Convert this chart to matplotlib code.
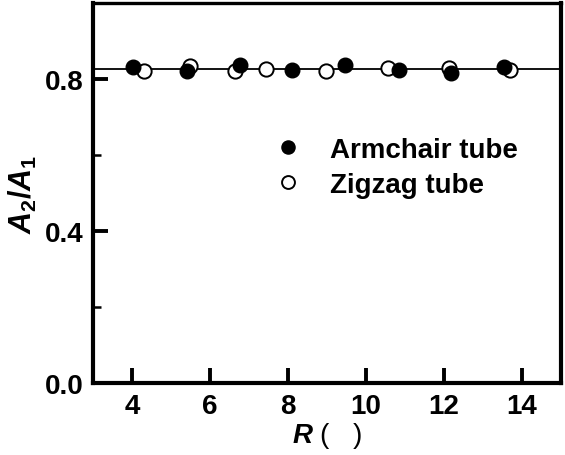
import numpy as np
import matplotlib.pyplot as plt
from matplotlib.ticker import MultipleLocator

plt.rcParams['font.family'] = 'Liberation Sans'
plt.rcParams['font.weight'] = 'bold'
plt.rcParams['mathtext.fontset'] = 'custom'
plt.rcParams['mathtext.rm'] = 'Liberation Sans:bold'
plt.rcParams['mathtext.it'] = 'Liberation Sans:bold:italic'
plt.rcParams['mathtext.bf'] = 'Liberation Sans:bold'

# armchair tubes
r_arm = [4.03, 5.41, 6.76, 8.11, 9.47, 10.84, 12.18, 13.54]
a_arm = [0.832, 0.822, 0.837, 0.825, 0.837, 0.823, 0.815, 0.832]
# zigzag tubes
r_zig = [4.29, 5.47, 6.63, 7.42, 8.98, 10.56, 12.13, 13.69]
a_zig = [0.822, 0.835, 0.822, 0.826, 0.822, 0.830, 0.828, 0.823]
mean_ratio = 0.826

fig = plt.figure(figsize=(5.65, 4.56), dpi=100)
ax = fig.add_axes([0.165, 0.158, 0.828, 0.833])

ax.axhline(mean_ratio, color='black', lw=1.3, zorder=1)
ax.plot(r_arm, a_arm, 'o', ms=10.5, color='black', mec='black', zorder=3,
        label='Armchair tube')
ax.plot(r_zig, a_zig, 'o', ms=10.3, mfc='white', mec='black', mew=1.4, zorder=2,
        label='Zigzag tube')

ax.set_xlim(3, 15)
ax.set_ylim(0, 1.0)
ax.xaxis.set_major_locator(MultipleLocator(2))
ax.xaxis.set_major_formatter(plt.FuncFormatter(lambda v, p: '%d' % v))
ax.yaxis.set_major_locator(MultipleLocator(0.4))
ax.yaxis.set_minor_locator(MultipleLocator(0.2))
ax.yaxis.set_major_formatter(plt.FuncFormatter(lambda v, p: '%.1f' % v))

ax.tick_params(which='major', direction='in', length=11, width=2.8,
               labelsize=20, pad=7)
ax.tick_params(which='minor', direction='in', length=6, width=1.8)
ax.tick_params(axis='y', which='both', right=False)
ax.tick_params(axis='x', which='both', top=False)
for s in ['left', 'bottom', 'right']:
    ax.spines[s].set_linewidth(3)
ax.spines['top'].set_linewidth(2.4)

ax.set_xlabel(r'$R$ (   )', fontsize=20, labelpad=1)
ax.set_ylabel(r'$A_2/A_1$', fontsize=22, labelpad=4)

ax.legend(loc='upper left', bbox_to_anchor=(0.387, 0.648), frameon=False,
          fontsize=20, handlelength=1.0, handletextpad=1.0, labelspacing=0.32,
          borderpad=0, borderaxespad=0, markerscale=0.9)

fig.savefig('out.png', dpi=100)
